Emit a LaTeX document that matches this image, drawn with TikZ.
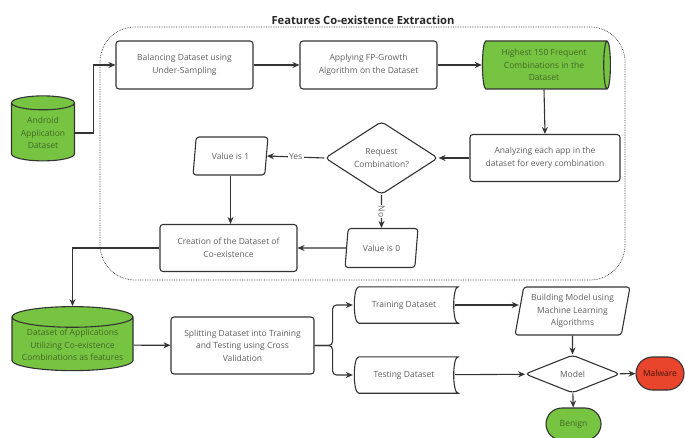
\documentclass[tikz,border=0pt]{standalone}
\usepackage{fontspec}
\setmainfont{Open Sans}
\usetikzlibrary{shapes.geometric,shapes.misc,arrows.meta}
\definecolor{leafgreen}{HTML}{77C443}
\definecolor{alertred}{HTML}{E8452C}
\definecolor{inkgray}{HTML}{333333}
\definecolor{txtgray}{HTML}{5E5E5E}
\definecolor{txtgreen}{HTML}{3E6A24}
\tikzset{
  every node/.style={font=\fontsize{8.5}{12.5}\selectfont, text=txtgray, align=center},
  edge/.style={draw=inkgray, line width=1.1pt},
  arr/.style={edge, -{Stealth[length=7pt,width=6pt]}},
  procbox/.style={edge, rounded corners=3pt, minimum width=137pt, minimum height=48pt, inner sep=2pt},
  datacyl/.style={edge, cylinder, fill=leafgreen, text=txtgreen, shape border rotate=90, aspect=0.2, inner sep=1pt},
  iobox/.style={edge, trapezium, trapezium left angle=78, trapezium right angle=102, trapezium stretches=true, rounded corners=3pt, inner sep=1pt},
  choice/.style={edge, diamond, rounded corners=4pt, inner sep=0pt},
  stored/.style={minimum width=102pt, minimum height=36pt, inner sep=0pt},
  endpill/.style={edge, rounded rectangle, minimum width=50pt, minimum height=33pt, inner sep=1pt}
}
\begin{document}
\begin{tikzpicture}[x=1pt,y=-1pt]
\useasboundingbox (0,0) rectangle (685,438);
\draw[densely dotted, line width=0.7pt, draw=inkgray, rounded corners=35pt] (100,27) rectangle (625,280);
\node[font=\fontsize{11.2}{13}\selectfont\bfseries, text=black!85, anchor=south, inner sep=1pt] (title) at (363,26) {Features Co-existence Extraction};

\node[datacyl, aspect=0.3, minimum width=63pt, minimum height=65pt] (android) at (43,133) {Android\\Application\\Dataset};
\node[procbox] (balance) at (184.5,65) {Balancing Dataset using\\Under-Sampling};
\node[procbox] (fpgrowth) at (368.5,65) {Applying FP-Growth\\Algorithm on the Dataset};
\node[datacyl, shape border rotate=0, minimum width=48pt, minimum height=128pt] (highest) at (544,65) {Highest 150 Frequent\\Combinations in the\\Dataset};
\node[procbox, minimum width=150pt, minimum height=47pt] (analyze) at (545,158) {Analyzing each app in the\\dataset for every combination};
\node[choice, aspect=1.55, minimum width=113pt, minimum height=73pt] (request) at (381.5,158) {Request\\Combination?};
\node[iobox, minimum width=75pt, minimum height=38pt] (valone) at (230.5,156) {Value is 1};
\node[iobox, minimum width=73pt, minimum height=39pt] (valzero) at (381.5,248) {Value is 0};
\node[procbox, minimum height=47pt] (creation) at (228.5,248) {Creation of the Dataset of\\Co-existence};

\node[datacyl, minimum width=121pt, minimum height=64pt] (appdata) at (72.5,345) {Dataset of Applications\\Utilizing Co-existence\\Combinations as features};
\node[procbox, minimum width=143pt, minimum height=57pt] (split) at (242.5,345.5) {Splitting Dataset into Training\\and Testing using Cross\\Validation};
\node[stored] (train) at (404,305) {Training Dataset};
\node[stored] (test) at (404,375) {Testing Dataset};
\node[iobox, minimum width=115pt, minimum height=48pt] (build) at (572.5,311) {Building Model using\\Machine Learning\\Algorithms};
\node[choice, aspect=2.5, minimum width=95pt, minimum height=38pt] (model) at (572.5,374) {Model};
\node[endpill, fill=alertred, text=black!70!alertred] (malware) at (660,373.5) {Malware};
\node[endpill, fill=leafgreen, text=txtgreen, minimum width=57pt, minimum height=32pt] (benign) at (573.5,424) {Benign};

\foreach \n in {train,test}
  \draw[edge] ([xshift=6pt]\n.north west) -- ([xshift=3pt]\n.north east) .. controls ([xshift=-3pt]\n.north east) and ([xshift=-3pt]\n.south east) .. ([xshift=3pt]\n.south east) -- ([xshift=6pt]\n.south west) .. controls (\n.south west) and (\n.north west) .. cycle;

\draw[arr] (android.east) -- ++(18,0) |- (balance.west);
\draw[arr] (balance) -- (fpgrowth);
\draw[arr] (fpgrowth) -- (highest);
\draw[arr] (highest.south) -- (analyze.north);
\draw[arr] (analyze) -- (request);
\draw[arr] (request.west) -- node[fill=white, inner sep=1.5pt] {Yes} (valone.east);
\draw[arr] (request.south) -- node[fill=white, inner sep=1pt, rotate=-90] {No} (valzero.north);
\draw[arr] (valone.south) -- (valone.south |- creation.north);
\draw[arr] (valzero) -- (creation);
\draw[arr] (creation.west) -| (appdata.north);
\draw[arr] (appdata) -- (split);
\draw[arr, rounded corners=4pt] (split.east) -- ++(18,0) |- (train.west);
\draw[arr, rounded corners=4pt] (split.east) -- ++(18,0) |- (test.west);
\draw[arr] (train.east) -- (train.east -| build.west);
\draw[arr] (build) -- (model);
\draw[arr] (test) -- (model);
\draw[arr] (model) -- (malware);
\draw[arr] (model) -- (benign);
\end{tikzpicture}
\end{document}
